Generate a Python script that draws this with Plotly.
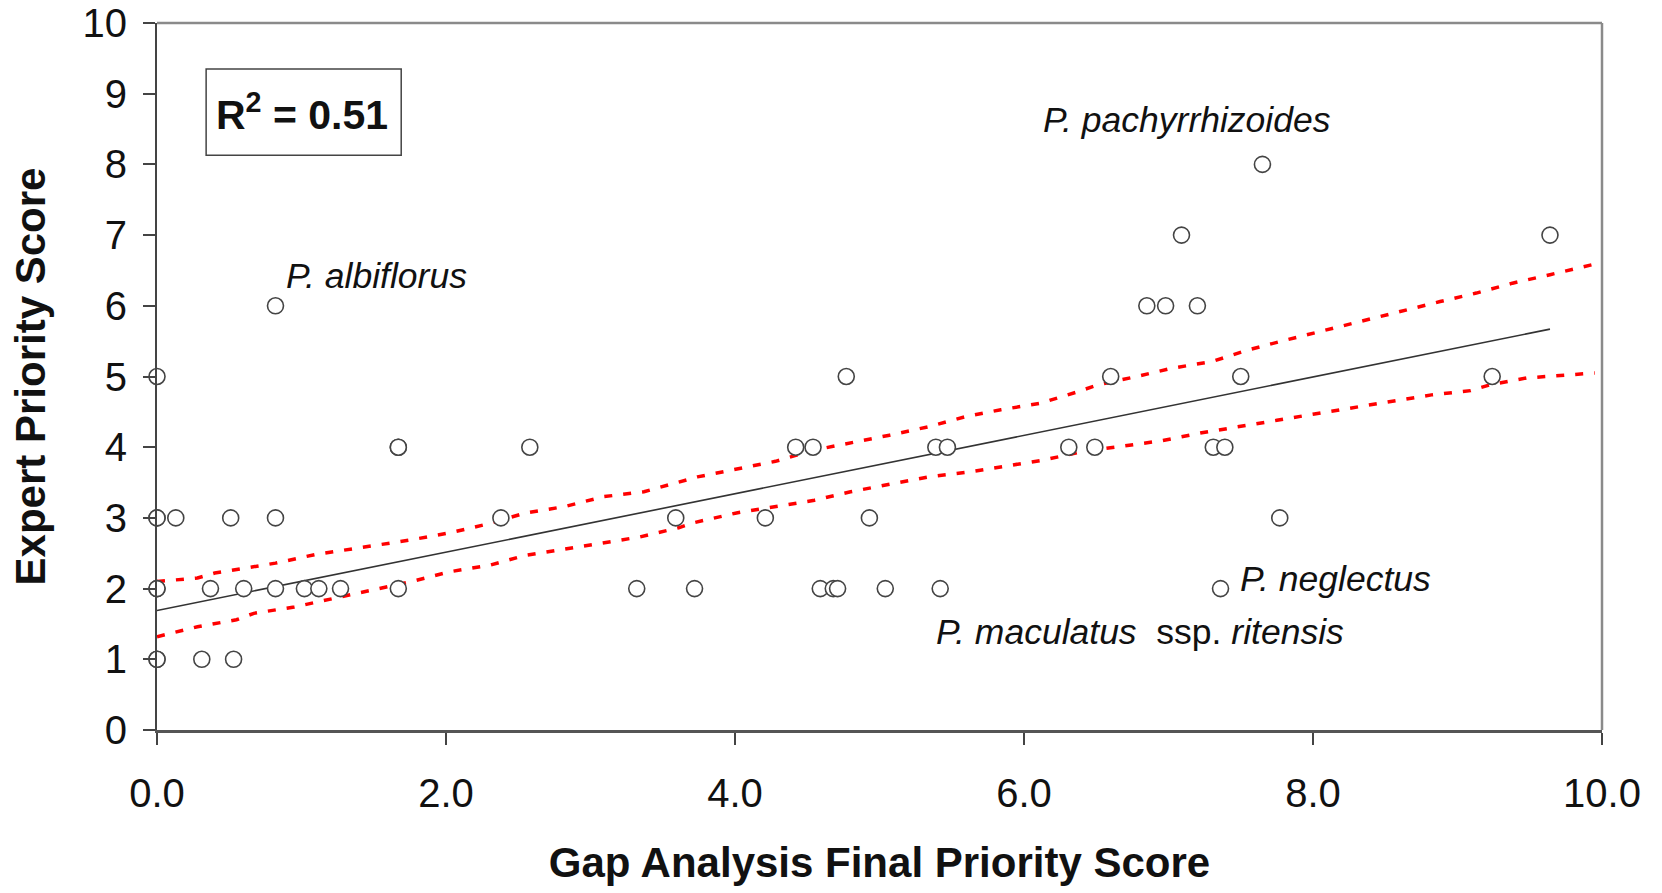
import plotly.graph_objects as go

# ---- data ----
gap_score = [0, 0, 0, 0, 0, 0, 0,
             0.13, 0.31, 0.37, 0.51, 0.53, 0.60,
             0.82, 0.82, 0.82,
             1.02, 1.12, 1.27,
             1.67, 1.67, 1.67,
             2.38, 2.58,
             3.32, 3.59, 3.72,
             4.21, 4.42, 4.54, 4.59, 4.68, 4.71, 4.77, 4.93, 5.04,
             5.39, 5.47, 5.42,
             6.31, 6.49, 6.60,
             6.85, 6.98, 7.09, 7.20,
             7.31, 7.39, 7.36, 7.50, 7.65, 7.77,
             9.24, 9.64]
expert_score = [5, 3, 3, 2, 2, 1, 1,
                3, 1, 2, 3, 1, 2,
                6, 3, 2,
                2, 2, 2,
                4, 4, 2,
                3, 4,
                2, 3, 2,
                3, 4, 4, 2, 2, 2, 5, 3, 2,
                4, 4, 2,
                4, 4, 5,
                6, 6, 7, 6,
                4, 4, 2, 5, 8, 3,
                5, 7]

fit_x = [0.0, 9.64]
fit_y = [1.69, 5.67]

upper_x = [0.0, 0.28, 0.40, 0.82, 1.09, 1.36, 1.76, 2.03, 2.30, 2.55, 2.82, 3.09, 3.37, 3.74,
           4.28, 4.55, 4.80, 5.07, 5.34, 5.59, 5.84, 6.11, 6.38, 6.51, 6.78, 7.03, 7.30,
           7.54, 7.82, 8.09, 8.35, 8.60, 8.88, 9.13, 9.38, 9.64, 9.95]
upper_y = [2.10, 2.15, 2.22, 2.36, 2.48, 2.56, 2.69, 2.79, 2.92, 3.07, 3.16, 3.30, 3.37, 3.58,
           3.80, 3.96, 4.06, 4.17, 4.29, 4.43, 4.53, 4.62, 4.79, 4.88, 5.00, 5.12, 5.21,
           5.37, 5.52, 5.66, 5.79, 5.92, 6.06, 6.18, 6.32, 6.44, 6.59]

lower_x = [0.0, 0.28, 0.55, 0.67, 0.95, 1.22, 1.49, 1.76, 2.03, 2.30, 2.55, 2.82, 3.07, 3.34,
           3.61, 3.71, 4.01, 4.28, 4.55, 4.80, 5.07, 5.34, 5.62, 5.86, 6.14, 6.41, 6.68,
           6.95, 7.22, 7.50, 7.75, 8.01, 8.28, 8.55, 8.82, 9.09, 9.22, 9.48, 9.76, 9.95]
lower_y = [1.32, 1.46, 1.56, 1.65, 1.74, 1.86, 1.98, 2.10, 2.24, 2.33, 2.47, 2.56, 2.64, 2.73,
           2.86, 2.93, 3.07, 3.16, 3.25, 3.37, 3.47, 3.58, 3.65, 3.73, 3.82, 3.94, 4.02,
           4.09, 4.20, 4.29, 4.38, 4.47, 4.56, 4.64, 4.74, 4.80, 4.88, 4.98, 5.02, 5.05]

x_ticks = [0, 2, 4, 6, 8, 10]
x_tick_labels = ["0.0", "2.0", "4.0", "6.0", "8.0", "10.0"]
y_ticks = list(range(0, 11))

labels = ["<i>P. pachyrrhizoides</i>", "<i>P. albiflorus</i>", "<i>P. neglectus</i>",
          "<i>P. maculatus</i>  ssp. <i>ritensis</i>"]
label_x = [6.12, 0.88, 7.48, 5.38]
label_y = [8.63, 6.42, 2.14, 1.39]

r2_text = "<b>R<sup>2</sup> = 0.51</b>"

FONT = "Liberation Sans, Arial, sans-serif"

fig = go.Figure()

band_line = dict(color="#ff0000", width=3.5, dash="8px,11px")
fig.add_trace(go.Scatter(x=upper_x, y=upper_y, mode="lines", line=band_line,
                         hoverinfo="skip", showlegend=False))
fig.add_trace(go.Scatter(x=lower_x, y=lower_y, mode="lines", line=band_line,
                         hoverinfo="skip", showlegend=False))
fig.add_trace(go.Scatter(x=fit_x, y=fit_y, mode="lines",
                         line=dict(color="#333333", width=1.6), showlegend=False))
fig.add_trace(go.Scatter(x=gap_score, y=expert_score, mode="markers", cliponaxis=False,
                         marker=dict(symbol="circle", size=16, color="white",
                                     line=dict(color="#444444", width=1.6)),
                         showlegend=False))

for t, lx, ly in zip(labels, label_x, label_y):
    fig.add_annotation(x=lx, y=ly, xref="x", yref="y", text=t, showarrow=False,
                       xanchor="left", yanchor="middle",
                       font=dict(family=FONT, size=35.5, color="#111111"))

# R^2 box
fig.add_shape(type="rect", xref="x", yref="y", x0=0.34, x1=1.69, y0=8.13, y1=9.35,
              line=dict(color="#444444", width=1.5), fillcolor="white", layer="below")
fig.add_annotation(x=1.0, y=8.74, xref="x", yref="y", text=r2_text, showarrow=False,
                   xanchor="center", yanchor="middle",
                   font=dict(family=FONT, size=41, color="#111111"))

# top and right border (gray)
fig.add_shape(type="line", xref="paper", yref="paper", x0=0, x1=1, y0=1, y1=1,
              line=dict(color="#8a8a8a", width=2.5))
fig.add_shape(type="line", xref="paper", yref="paper", x0=1, x1=1, y0=0, y1=1,
              line=dict(color="#8a8a8a", width=2.5))

fig.update_layout(
    width=1662, height=893,
    margin=dict(l=157, r=60, t=23, b=163, autoexpand=False),
    paper_bgcolor="white", plot_bgcolor="white",
    font=dict(family=FONT, color="#111111"),
    xaxis=dict(range=[0, 10], tickvals=x_ticks, ticktext=x_tick_labels, automargin=False,
               showgrid=False, zeroline=False, showline=True, linecolor="#555555", linewidth=3,
               ticks="outside", ticklen=12, tickcolor="#444444", tickwidth=1.5,
               tickfont=dict(family=FONT, size=40, color="#111111"),
               ticklabelstandoff=14,
               title=dict(text="<b>Gap Analysis Final Priority Score</b>", standoff=34,
                          font=dict(family=FONT, size=42, color="#111111"))),
    yaxis=dict(range=[0, 10], tickvals=y_ticks, automargin=False,
               showgrid=False, zeroline=False, showline=True, linecolor="#444444", linewidth=2,
               ticks="outside", ticklen=12, tickcolor="#444444", tickwidth=1.5,
               tickfont=dict(family=FONT, size=40, color="#111111"),
               ticklabelstandoff=8,
               title=dict(text="<b>Expert Priority Score</b>", standoff=24,
                          font=dict(family=FONT, size=42, color="#111111"))),
)

fig.write_html("out.html")
